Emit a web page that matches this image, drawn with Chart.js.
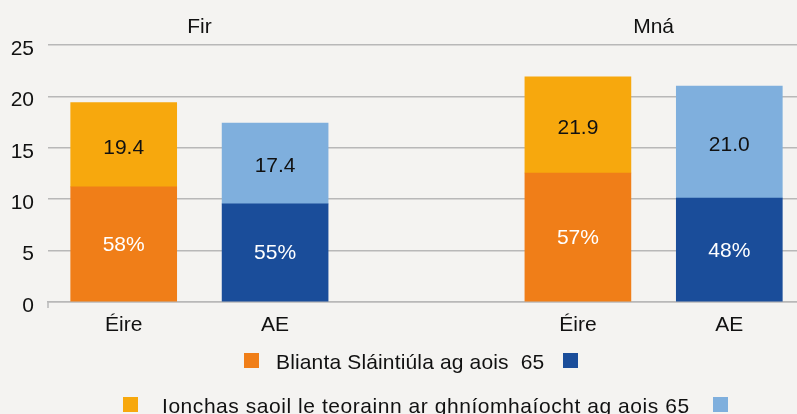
<!DOCTYPE html>
<html>
<head>
<meta charset="utf-8">
<script src="https://cdn.jsdelivr.net/npm/chart.js@4"></script>
<style>
  html, body { margin: 0; padding: 0; background: #f4f3f1; }
  #wrap { position: relative; width: 797px; height: 414px; overflow: hidden; font-family: "Liberation Sans", Arial, sans-serif; }
  #chart { position: absolute; left: 0; top: 0; }
  .sw { position: absolute; width: 15px; height: 15px; }
  .lt { position: absolute; font-size: 21px; line-height: 21px; color: #111; white-space: nowrap; }
</style>
</head>
<body>
<div id="wrap">
  <canvas id="chart" width="805" height="414"></canvas>
  <span class="sw" style="left:244px;top:353px;background:#f07e18"></span>
  <span class="lt" style="left:276px;top:351px;letter-spacing:0.15px">Blianta Sláintiúla ag aois&nbsp; 65</span>
  <span class="sw" style="left:563px;top:353px;background:#1a4d9a"></span>
  <span class="sw" style="left:123px;top:397px;background:#f7a80d"></span>
  <span class="lt" style="left:162px;top:395px;letter-spacing:0.55px">Ionchas saoil le teorainn ar ghníomhaíocht ag aois 65</span>
  <span class="sw" style="left:713px;top:397px;background:#7fafdd"></span>
</div>
<script>
// categories (middle slot is an empty spacer between the two groups)
const categories = ['Éire', 'AE', '', 'Éire', 'AE'];
const groups = ['Fir', 'Mná'];

// healthy life years at 65 and total life expectancy at 65
const healthyYears = [11.2, 9.55, null, 12.55, 10.1];
const totalYears = [19.4, 17.4, null, 21.9, 21.0];

// labels written in the bars
const pctLabels = ['58%', '55%', '', '57%', '48%'];
const totalLabels = ['19.4', '17.4', '', '21.9', '21.0'];

const yTicks = [0, 5, 10, 15, 20, 25];

const bottomColors = ['#f07e18', '#1a4d9a', '#f07e18', '#f07e18', '#1a4d9a'];
const topColors = ['#f7a80d', '#7fafdd', '#f7a80d', '#f7a80d', '#7fafdd'];

const restYears = totalYears.map((t, i) => t == null ? null : +(t - healthyYears[i]).toFixed(2));

const fontFam = '"Liberation Sans", Arial, sans-serif';

const barLabels = {
  id: 'barLabels',
  afterDatasetsDraw(chart) {
    const ctx = chart.ctx;
    ctx.save();
    ctx.font = '21px ' + fontFam;
    ctx.textAlign = 'center';
    ctx.textBaseline = 'middle';
    const m0 = chart.getDatasetMeta(0);
    const m1 = chart.getDatasetMeta(1);
    m0.data.forEach((bar, i) => {
      if (healthyYears[i] == null) return;
      ctx.fillStyle = '#ffffff';
      ctx.fillText(pctLabels[i], bar.x, (bar.y + bar.base) / 2 + 1);
      const top = m1.data[i];
      ctx.fillStyle = '#111111';
      ctx.fillText(totalLabels[i], top.x, (top.y + top.base) / 2 + 3);
    });
    // group titles
    const xs = chart.scales.x;
    ctx.fillStyle = '#111111';
    ctx.fillText(groups[0], (xs.getPixelForValue(0) + xs.getPixelForValue(1)) / 2, 27);
    ctx.fillText(groups[1], (xs.getPixelForValue(3) + xs.getPixelForValue(4)) / 2, 27);
    // small tick at the bottom left of the axis
    ctx.strokeStyle = '#b8b8b8';
    ctx.lineWidth = 1.5;
    ctx.beginPath();
    ctx.moveTo(chart.chartArea.left, chart.chartArea.bottom);
    ctx.lineTo(chart.chartArea.left, chart.chartArea.bottom + 6);
    ctx.stroke();
    ctx.restore();
  }
};

new Chart(document.getElementById('chart'), {
  type: 'bar',
  data: {
    labels: categories,
    datasets: [
      { label: 'Blianta Sláintiúla ag aois 65', data: healthyYears, backgroundColor: bottomColors, barThickness: 106 },
      { label: 'Ionchas saoil le teorainn ar ghníomhaíocht ag aois 65', data: restYears, backgroundColor: topColors, barThickness: 106 }
    ]
  },
  options: {
    responsive: false,
    animation: false,
    layout: { padding: { top: 45, left: 0, right: 0, bottom: 72 } },
    plugins: { legend: { display: false }, tooltip: { enabled: false } },
    scales: {
      x: {
        stacked: true,
        grid: { display: false, drawTicks: false },
        border: { display: true, color: '#b8b8b8', width: 1.5 },
        ticks: { color: '#111', font: { family: fontFam, size: 21 }, padding: 11 },
        afterFit: axis => { axis.height = 40; }
      },
      y: {
        stacked: true,
        min: 0,
        max: 25,
        afterBuildTicks: axis => { axis.ticks = yTicks.map(v => ({ value: v })); },
        afterFit: axis => { axis.width = 48; },
        grid: { color: '#b8b8b8', lineWidth: 1.5, drawTicks: false },
        border: { display: false },
        ticks: { color: '#111', font: { family: fontFam, size: 21 }, padding: 14, labelOffset: 4 }
      }
    }
  },
  plugins: [barLabels]
});
</script>
</body>
</html>
